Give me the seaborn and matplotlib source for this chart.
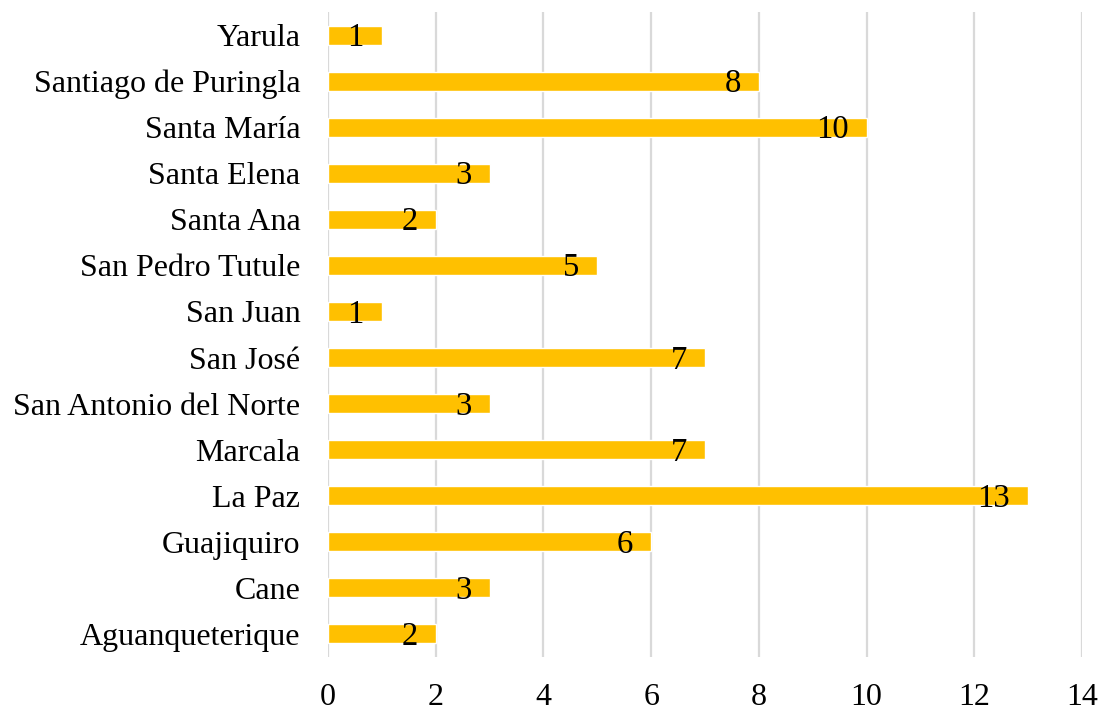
import matplotlib
matplotlib.use("Agg")
import matplotlib.pyplot as plt
import seaborn as sns
import pandas as pd

categories = ["Yarula", "Santiago de Puringla", "Santa María", "Santa Elena", "Santa Ana",
              "San Pedro Tutule", "San Juan", "San José", "San Antonio del Norte", "Marcala",
              "La Paz", "Guajiquiro", "Cane", "Aguanqueterique"]
values = [1, 8, 10, 3, 2, 5, 1, 7, 3, 7, 13, 6, 3, 2]
x_ticks = [0, 2, 4, 6, 8, 10, 12, 14]

sns.set_theme(style="white")
plt.rcParams['font.family'] = ['Liberation Serif', 'DejaVu Serif']

df = pd.DataFrame({"cat": categories, "val": values})

fig = plt.figure(figsize=(11.03, 7.11), dpi=100)
ax = fig.add_axes([0.2974, 0.076, 0.6836, 0.907])

sns.barplot(data=df, y="cat", x="val", orient="h", color="#FFC000", saturation=1,
            width=0.41, ax=ax, zorder=3)

ax.set_xlim(0, 14)
ax.set_ylim(len(categories) - 0.5, -0.5)
ax.set_xticks(x_ticks)
ax.set_xticklabels([str(t) for t in x_ticks])
ax.set_xlabel("")
ax.set_ylabel("")
ax.grid(axis="x", color="#D9D9D9", linewidth=1.6, zorder=0)
ax.grid(axis="y", visible=False)
for s in ax.spines.values():
    s.set_visible(False)
ax.tick_params(axis="x", length=0, pad=19, labelsize=23, colors="black")
ax.tick_params(axis="y", length=0, pad=20, labelsize=23, colors="black")

for i, v in enumerate(values):
    ax.annotate(str(v), xy=(v, i), xytext=(-13, -2), textcoords="offset points",
                ha="right", va="center", fontsize=23.5, color="black", zorder=4)

fig.savefig("out.png", dpi=100)
